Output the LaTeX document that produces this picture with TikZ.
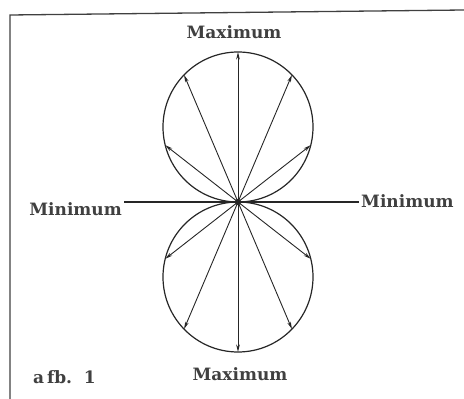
\documentclass[tikz,border=0pt]{standalone}
\usepackage{fontspec}
\setmainfont{DejaVu Serif}
\usetikzlibrary{
  calc,
  arrows.meta
}

\begin{document}
\begin{tikzpicture}[>=Latex, x=1pt, y=1pt]
  \tikzset{
    lobe/.style={line width=1.2pt, draw=black!85},
    ray/.style={
      -{Stealth[length=7.5pt,width=3.6pt]}, line width=0.9pt, draw=black!85
    },
    axis/.style={line width=2.4pt, draw=black!85},
    lbl/.style={font=\fontsize{17}{19}\selectfont\bfseries, text=black!75, inner sep=2pt},
    % every node/.style={font=\large}
  }
\useasboundingbox (0,0) rectangle (464,399);

% frame of the figure
\draw[line width=1.3pt, black!75] (10,0)--(10,384)--(464,389);

\coordinate (o) at (238,197);
\coordinate (top) at (238,272);
\coordinate (bot) at (238,122);

\draw[lobe] (top) circle (75);
\draw[lobe] (bot) circle (75);

\foreach \a in {38,67,90,113,142}{
  \coordinate (u\a) at ($(o)+(\a:{150*sin(\a)})$);
  \coordinate (d\a) at ($(o)+(-\a:{150*sin(\a)})$);
  \draw[ray] (o)--(u\a);
  \draw[ray] (o)--(d\a);
}

\node[lbl, name=maxtop] at (234,367) {Maximum};
\node[lbl, name=maxbot] at (240,25) {Maximum};
\node[lbl, anchor=east, name=minl] at (124,190) {Minimum};
\node[lbl, anchor=west, name=minr] at (359,198) {Minimum};
\node[lbl, anchor=west, name=afb] at (31,22) {a\,fb.\ \ 1};

\draw[axis] (minl.east |- o) -- (minr.west |- o);
\fill[black!85] (o) circle (3.2);

\end{tikzpicture}
\end{document}
